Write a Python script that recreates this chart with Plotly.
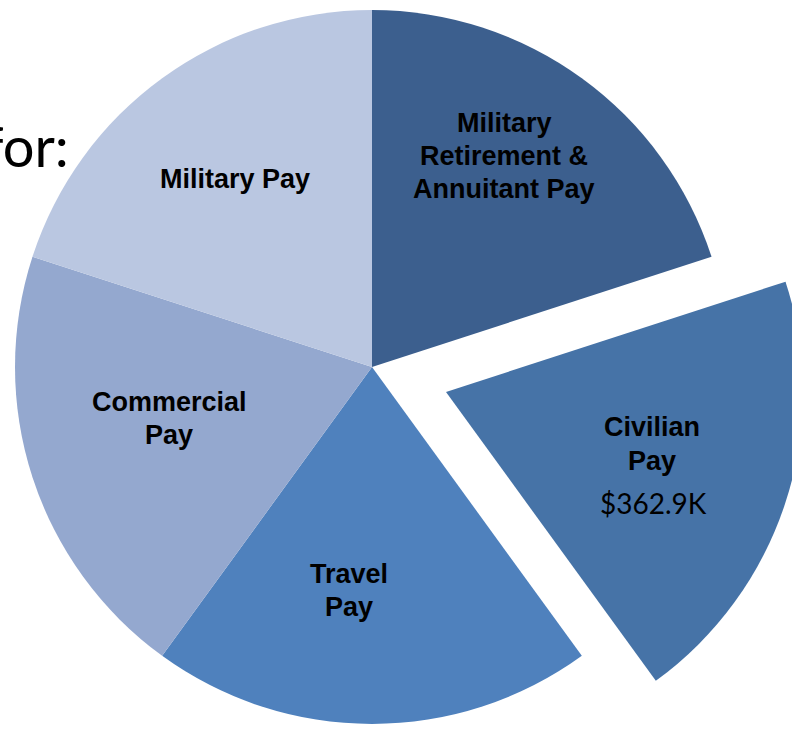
import plotly.graph_objects as go

# ---- data ----
categories = ["Military Retirement & Annuitant Pay", "Civilian Pay", "Travel Pay",
              "Commercial Pay", "Military Pay"]
label_lines = [["Military", "Retirement &", "Annuitant Pay"], ["Civilian", "Pay"],
               ["Travel", "Pay"], ["Commercial", "Pay"], ["Military Pay"]]
slice_values = [1, 1, 1, 1, 1]
amount_labels = ["", "$362.9K", "", "", ""]
exploded = [False, True, False, False, False]

# ---- style / layout ----
colors = ["#3C5F8E", "#4673A7", "#4F81BD", "#94A8CF", "#BAC7E1"]
W, H = 810, 750
CX, CY, R = 372, 367, 357
PULL_DX, PULL_DY = 74, 25
LINE_H = 33
# label block centres (x, y) in pixels
label_px = [(504, 156), (652, 444), (349, 590.5), (169, 418.5), (235, 179)]
amount_px = [None, (653, 502.5), None, None, None]


def domain(cx, cy, r):
    return dict(x=[(cx - r) / W, (cx + r) / W],
                y=[(H - (cy + r)) / H, (H - (cy - r)) / H])


clear = "rgba(0,0,0,0)"
base_colors = [clear if e else c for c, e in zip(colors, exploded)]
pull_colors = [c if e else clear for c, e in zip(colors, exploded)]

fig = go.Figure()
fig.add_trace(go.Pie(labels=categories, values=slice_values, sort=False,
                     direction="clockwise", rotation=0, textinfo="none",
                     marker=dict(colors=base_colors, line=dict(width=0)),
                     domain=domain(CX, CY, R), showlegend=False, hoverinfo="label"))
fig.add_trace(go.Pie(labels=categories, values=slice_values, sort=False,
                     direction="clockwise", rotation=0, textinfo="none",
                     marker=dict(colors=pull_colors, line=dict(width=0)),
                     domain=domain(CX + PULL_DX, CY + PULL_DY, R), showlegend=False,
                     hoverinfo="label"))

ann = []
for lines, (px, cy) in zip(label_lines, label_px):
    n = len(lines)
    for i, txt in enumerate(lines):
        py = cy + (i - (n - 1) / 2) * LINE_H
        ann.append(dict(text="<b>" + txt + "</b>", x=px / W, y=1 - py / H,
                        xref="paper", yref="paper", xanchor="center", yanchor="middle",
                        showarrow=False,
                        font=dict(family="Arial, Liberation Sans", size=27, color="#000000")))
for txt, pos in zip(amount_labels, amount_px):
    if txt and pos:
        ann.append(dict(text=txt, x=pos[0] / W, y=1 - pos[1] / H, xref="paper", yref="paper",
                        xanchor="center", yanchor="middle", showarrow=False,
                        font=dict(family="Lato", size=28, color="#000000")))
ann.append(dict(text="for:", x=71 / W, y=1 - 145 / H, xref="paper", yref="paper",
                xanchor="right", yanchor="middle", showarrow=False,
                font=dict(family="Lato", size=56, color="#000000")))

fig.update_layout(width=W, height=H, margin=dict(l=0, r=0, t=0, b=0),
                  paper_bgcolor="white", plot_bgcolor="white", annotations=ann)
fig.write_html("out.html", config={"displayModeBar": False},
               post_script="document.body.style.margin='0px';"
                           "document.body.style.overflow='hidden';")
